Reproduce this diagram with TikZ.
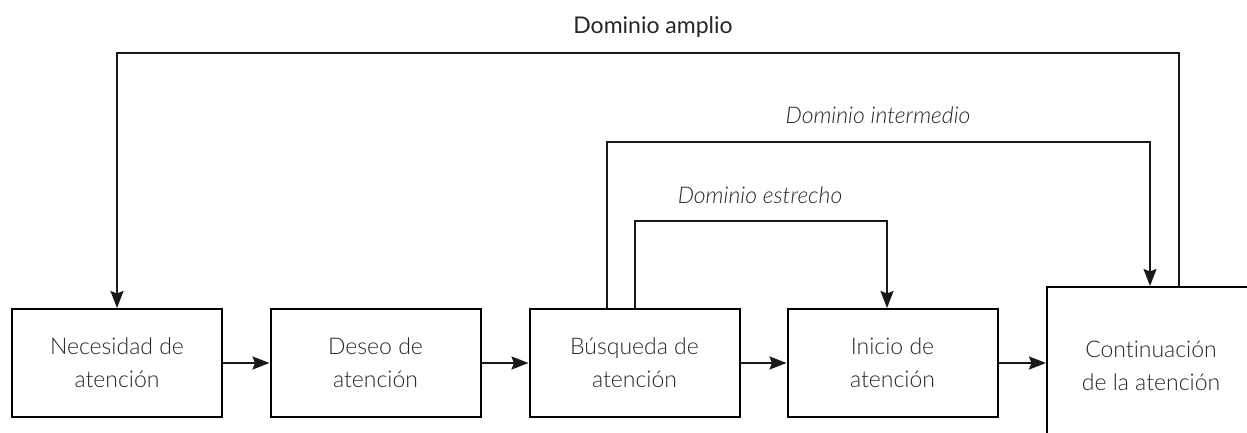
\documentclass[tikz,border=0pt]{standalone}
\usepackage{fontspec}
\setmainfont{Lato Light}[ItalicFont={Lato Light Italic}, Ligatures=NoCommon]
\newfontfamily\regfont{Lato}[Ligatures=NoCommon]
\usetikzlibrary{arrows.meta}
\begin{document}
\begin{tikzpicture}[x=1pt,y=-1pt,
  box/.style={draw, line width=2pt, minimum width=210pt, minimum height=108pt, align=center, inner sep=0pt, text=black!85, font=\fontsize{23}{33}\selectfont},
  line/.style={line width=2pt, draw=black!90},
  arr/.style={line, -{Stealth[length=17pt,width=13pt,inset=2.5pt]}},
  lbl/.style={text=black!85, font=\fontsize{23}{26}\selectfont}]
\useasboundingbox (0,0) rectangle (1247,433);
\clip (0,0) rectangle (1247,433);
\node[box] (b1) at (117,363) {Necesidad de\\atención};
\node[box] (b2) at (375.5,363) {Deseo de\\atención};
\node[box] (b3) at (634.5,363) {Búsqueda de\\atención};
\node[box] (b4) at (892.5,363) {Inicio de\\atención};
\node[box, minimum width=208pt, minimum height=158pt] (b5) at (1151,366) {Continuación\\de la atención};
\draw[arr] (b1.east) -- (b2.west);
\draw[arr] (b2.east) -- (b3.west);
\draw[arr] (b3.east) -- (b4.west);
\draw[arr] (b4.east) -- (b4.east -| b5.west);
\coordinate (n1) at (635,221);
\coordinate (n2) at (887,221);
\draw[arr] (n1 |- b3.north) -- (n1) -- (n2) -- (n2 |- b4.north);
\coordinate (m1) at (607,142);
\coordinate (m2) at (1150,142);
\draw[arr] (m1 |- b3.north) -- (m1) -- (m2) -- (m2 |- b5.north);
\coordinate (w1) at (1179,53);
\coordinate (w2) at (117,53);
\draw[arr] (w1 |- b5.north) -- (w1) -- (w2) -- (w2 |- b1.north);
\node[lbl, font=\regfont\fontsize{23}{26}\selectfont] (la) at (653,27) {Dominio amplio};
\node[lbl, font=\itshape\fontsize{23}{26}\selectfont] (li) at (878,115) {Dominio intermedio};
\node[lbl, font=\itshape\fontsize{23}{26}\selectfont] (le) at (760,195) {Dominio estrecho};
\end{tikzpicture}
\end{document}
